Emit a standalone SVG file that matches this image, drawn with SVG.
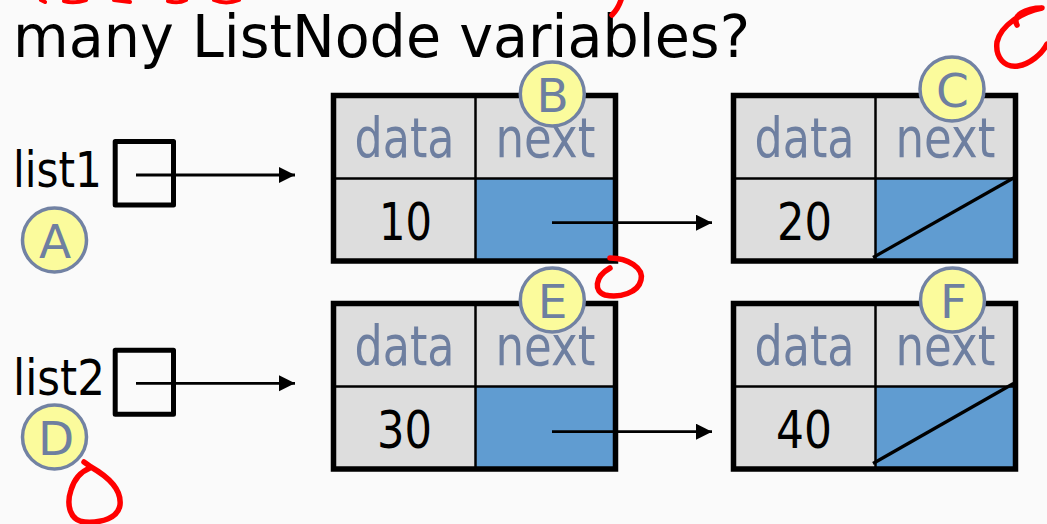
<svg xmlns="http://www.w3.org/2000/svg" width="1047" height="524" viewBox="0 0 1047 524">
<defs>
<style>
.title{font-family:"DejaVu Sans","Liberation Sans",sans-serif;font-size:58px;fill:#000}
.var{font-family:"DejaVu Sans","Liberation Sans",sans-serif;font-size:50px;fill:#000}
.fld{font-family:"DejaVu Sans","Liberation Sans",sans-serif;font-size:56px;fill:#6E7FA0;text-anchor:middle}
.num{font-family:"DejaVu Sans","Liberation Sans",sans-serif;font-size:51px;fill:#000;text-anchor:middle}
.lbl{font-family:"DejaVu Sans","Liberation Sans",sans-serif;font-size:47px;fill:#6E7FA0;text-anchor:middle}
.circ{fill:#FBFB9C;stroke:#7282A3;stroke-width:3.5}
.gray{fill:#DDDDDD}
.blue{fill:#609CD1}
.thin{stroke:#000;stroke-width:2.5;fill:none}
.outer{fill:none;stroke:#000;stroke-width:5.5}
.vbox{fill:none;stroke:#000;stroke-width:5;stroke-linejoin:round}
.conn{stroke:#000;stroke-width:2.8;fill:none}
.red{fill:none;stroke:#FF0000;stroke-width:5.5;stroke-linecap:round;stroke-linejoin:round}
.redthin{fill:none;stroke:#FF0000;stroke-width:4;stroke-linecap:round;stroke-linejoin:round}
</style>
<marker id="arr" markerUnits="userSpaceOnUse" markerWidth="18" markerHeight="18" refX="16" refY="8" orient="auto">
<path d="M0,0 L16,8 L0,16 Z" fill="#000"/>
</marker>
</defs>
<rect width="1047" height="524" fill="#FAFAFA"/>

<text id="title" class="title" x="13" y="57" textLength="737" lengthAdjust="spacingAndGlyphs">many ListNode variables?</text>

<g id="list1">
<text class="var" x="13" y="187" textLength="89" lengthAdjust="spacingAndGlyphs">list1</text>
<rect class="vbox" x="115.2" y="141.5" width="58.3" height="63.5"/>
</g>
<g id="labelA">
<circle class="circ" cx="54.5" cy="240" r="32"/>
<text class="lbl" x="55" y="258">A</text>
</g>

<g id="list2">
<text class="var" x="13" y="395" textLength="92" lengthAdjust="spacingAndGlyphs">list2</text>
<rect class="vbox" x="115.2" y="350.2" width="58.3" height="64"/>
</g>
<g id="labelD">
<circle class="circ" cx="54.5" cy="437" r="32"/>
<text class="lbl" x="56" y="455">D</text>
</g>

<g id="nodeB" transform="translate(333.5,95.5)">
<rect class="gray" x="0" y="0" width="282" height="165.5"/>
<rect class="blue" x="142" y="83" width="140" height="82.5"/>
<line class="thin" x1="142" y1="0" x2="142" y2="165.5"/>
<line class="thin" x1="0" y1="83" x2="282" y2="83"/>
<rect class="outer" x="0" y="0" width="282" height="165.5"/>
<text class="fld" x="71" y="61.5" textLength="100" lengthAdjust="spacingAndGlyphs">data</text>
<text class="fld" x="212" y="61.5" textLength="100" lengthAdjust="spacingAndGlyphs">next</text>
<text class="num" x="72" y="144.5" textLength="53" lengthAdjust="spacingAndGlyphs">10</text>
<circle class="circ" cx="218.8" cy="-1.5" r="32"/>
<text class="lbl" x="219" y="16">B</text>
</g>

<g id="nodeC" transform="translate(733.5,95.5)">
<rect class="gray" x="0" y="0" width="282" height="165.5"/>
<rect class="blue" x="142" y="83" width="140" height="82.5"/>
<line class="thin" x1="142" y1="0" x2="142" y2="165.5"/>
<line class="thin" x1="0" y1="83" x2="282" y2="83"/>
<line x1="139.5" y1="162" x2="280" y2="82.5" stroke="#000" stroke-width="3.2"/>
<rect class="outer" x="0" y="0" width="282" height="165.5"/>
<text class="fld" x="71" y="61.5" textLength="100" lengthAdjust="spacingAndGlyphs">data</text>
<text class="fld" x="212" y="61.5" textLength="100" lengthAdjust="spacingAndGlyphs">next</text>
<text class="num" x="71" y="144.5" textLength="55" lengthAdjust="spacingAndGlyphs">20</text>
<circle class="circ" cx="218.5" cy="-6.5" r="32"/>
<text class="lbl" x="219" y="11">C</text>
</g>

<g id="nodeE" transform="translate(333.5,303.5)">
<rect class="gray" x="0" y="0" width="282" height="165.5"/>
<rect class="blue" x="142" y="83" width="140" height="82.5"/>
<line class="thin" x1="142" y1="0" x2="142" y2="165.5"/>
<line class="thin" x1="0" y1="83" x2="282" y2="83"/>
<rect class="outer" x="0" y="0" width="282" height="165.5"/>
<text class="fld" x="71" y="61.5" textLength="100" lengthAdjust="spacingAndGlyphs">data</text>
<text class="fld" x="212" y="61.5" textLength="100" lengthAdjust="spacingAndGlyphs">next</text>
<text class="num" x="71" y="144.5" textLength="55" lengthAdjust="spacingAndGlyphs">30</text>
<circle class="circ" cx="218.8" cy="-3.5" r="32"/>
<text class="lbl" x="219" y="14">E</text>
</g>

<g id="nodeF" transform="translate(733.5,303.5)">
<rect class="gray" x="0" y="0" width="282" height="165.5"/>
<rect class="blue" x="142" y="83" width="140" height="82.5"/>
<line class="thin" x1="142" y1="0" x2="142" y2="165.5"/>
<line class="thin" x1="0" y1="83" x2="282" y2="83"/>
<line x1="139.5" y1="160" x2="280" y2="80" stroke="#000" stroke-width="3.2"/>
<rect class="outer" x="0" y="0" width="282" height="165.5"/>
<text class="fld" x="71" y="61.5" textLength="100" lengthAdjust="spacingAndGlyphs">data</text>
<text class="fld" x="212" y="61.5" textLength="100" lengthAdjust="spacingAndGlyphs">next</text>
<text class="num" x="70.5" y="144" textLength="56" lengthAdjust="spacingAndGlyphs">40</text>
<circle class="circ" cx="219" cy="-3.5" r="32"/>
<text class="lbl" x="220" y="14">F</text>
</g>

<g id="connectors">
<line class="conn" x1="136" y1="175" x2="295" y2="175" marker-end="url(#arr)"/>
<line class="conn" x1="136" y1="383.3" x2="295" y2="383.3" marker-end="url(#arr)"/>
<line class="conn" x1="552" y1="222.7" x2="712" y2="222.7" marker-end="url(#arr)"/>
<line class="conn" x1="552" y1="431.7" x2="712" y2="431.7" marker-end="url(#arr)"/>
</g>

<g id="annotations">
<path class="redthin" d="M41,0 L45,2 M64,1 Q74,4 86,0 M114,0 L130,2 M168,1 Q178,4 186,0 M214,0 Q226,5 239,0"/>
<path class="red" d="M621,0 C619,6 616,11 612,15"/>
<path class="red" d="M1017,25 C1012,16 1025,8 1042,8 C1022,12 1001,25 997,42 C995,58 1005,68 1018,66 C1030,64 1042,54 1047,44"/>
<path class="red" d="M610,258 C628,258 644,268 641,280 C638,293 620,298 605,295 C594,292 594,277 610,268"/>
<path class="red" d="M84,462 L91,467 C105,475 122,488 120,505 C118,518 102,523 85,522 C70,521 66,505 71,490 C74,480 80,472 90,468"/>
</g>
</svg>
